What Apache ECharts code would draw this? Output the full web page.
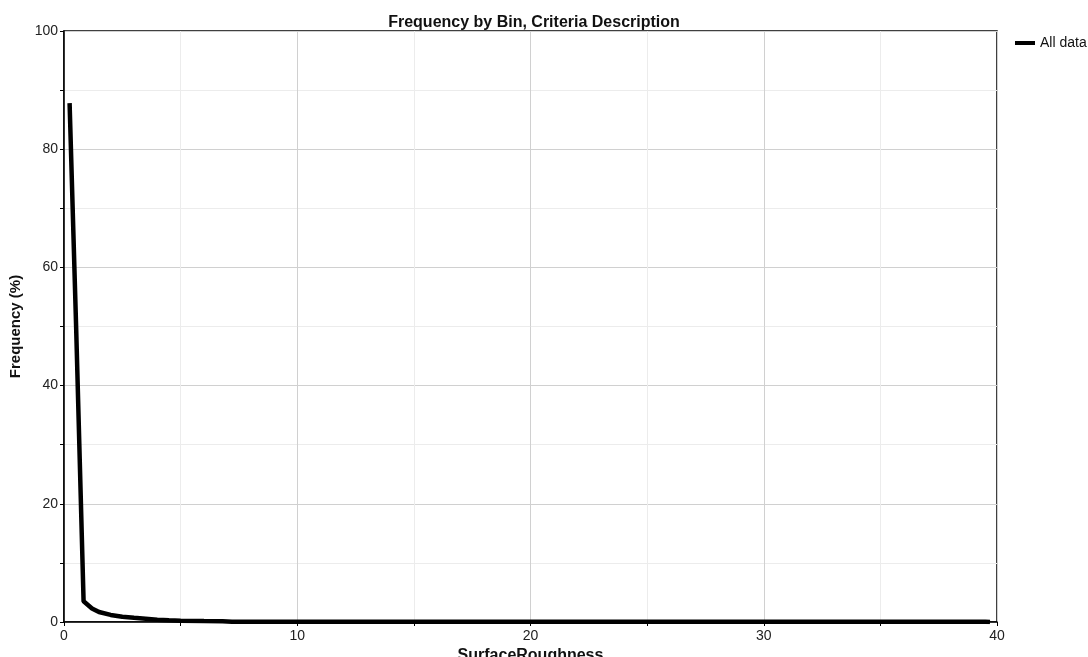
<!DOCTYPE html>
<html>
<head>
<meta charset="utf-8">
<script src="https://cdn.jsdelivr.net/npm/echarts@6/dist/echarts.min.js"></script>
<style>
html,body{margin:0;padding:0;background:#fff;overflow:hidden;}
#c{width:1088px;height:657px;}
</style>
</head>
<body>
<div id="c"></div>
<script>
var xValues = [0.24, 0.52, 0.84, 1.2, 1.5, 2.0, 2.5, 3.0, 3.5, 4.0, 4.5, 5.0, 6.0, 6.8, 7.2, 10, 15, 20, 25, 30, 35, 39.5, 39.7];
var yValues = [87.8, 49.9, 3.5, 2.3, 1.7, 1.2, 0.9, 0.7, 0.55, 0.4, 0.3, 0.22, 0.15, 0.12, 0.04, 0.04, 0.04, 0.04, 0.04, 0.04, 0.04, 0.04, 0.0];
var seriesName = 'All data';
var titleText = 'Frequency by Bin, Criteria Description';
var xName = 'SurfaceRoughness';
var yName = 'Frequency (%)';

var data = xValues.map(function (x, i) { return [x, yValues[i]]; });
var font = 'Liberation Sans, Arial, sans-serif';
var chart = echarts.init(document.getElementById('c'));
chart.setOption({
  animation: false,
  backgroundColor: '#fff',
  title: {
    text: titleText, left: 529, top: 10, textAlign: 'center',
    textStyle: {fontFamily: font, fontSize: 16, fontWeight: 'bold', color: '#111'}
  },
  legend: {
    data: [{name: seriesName, icon: 'rect'}],
    left: 1010, top: 31, orient: 'vertical',
    itemWidth: 20, itemHeight: 4, itemGap: 6,
    textStyle: {fontFamily: font, fontSize: 14, color: '#111'}
  },
  grid: {left: 64, right: 91, top: 31, bottom: 35, show: true, borderColor: '#000', borderWidth: 1.5,
    containLabel: false, outerBoundsMode: 'none'},
  xAxis: {
    type: 'value', min: 0, max: 40, interval: 5,
    name: xName, nameLocation: 'middle', nameGap: 23,
    nameTextStyle: {fontFamily: font, fontSize: 16, fontWeight: 'bold', color: '#111'},
    axisLine: {show: true, lineStyle: {color: '#000', width: 1.5}},
    axisTick: {show: true, length: 4, lineStyle: {color: '#000'}},
    axisLabel: {fontFamily: font, fontSize: 14, color: '#222', margin: 7,
      formatter: function (v) { return (v % 10 === 0) ? String(v) : ''; }},
    splitLine: {show: true, lineStyle: {color: ['#d0d0d0', '#ececec'], width: 1}}
  },
  yAxis: {
    type: 'value', min: 0, max: 100, interval: 10,
    name: yName, nameLocation: 'middle', nameGap: 31,
    nameTextStyle: {fontFamily: font, fontSize: 15, fontWeight: 'bold', color: '#111'},
    axisLine: {show: true, lineStyle: {color: '#000', width: 1.5}},
    axisTick: {show: true, length: 4, lineStyle: {color: '#000'}},
    axisLabel: {fontFamily: font, fontSize: 14, color: '#222', margin: 6,
      formatter: function (v) { return (v % 20 === 0) ? String(v) : ''; }},
    splitLine: {show: true, lineStyle: {color: ['#d0d0d0', '#ececec'], width: 1}}
  },
  series: [{
    name: seriesName, type: 'line', data: data,
    showSymbol: false, symbol: 'none',
    lineStyle: {color: '#000', width: 4.5},
    itemStyle: {color: '#000'}
  }]
});
</script>
</body>
</html>
